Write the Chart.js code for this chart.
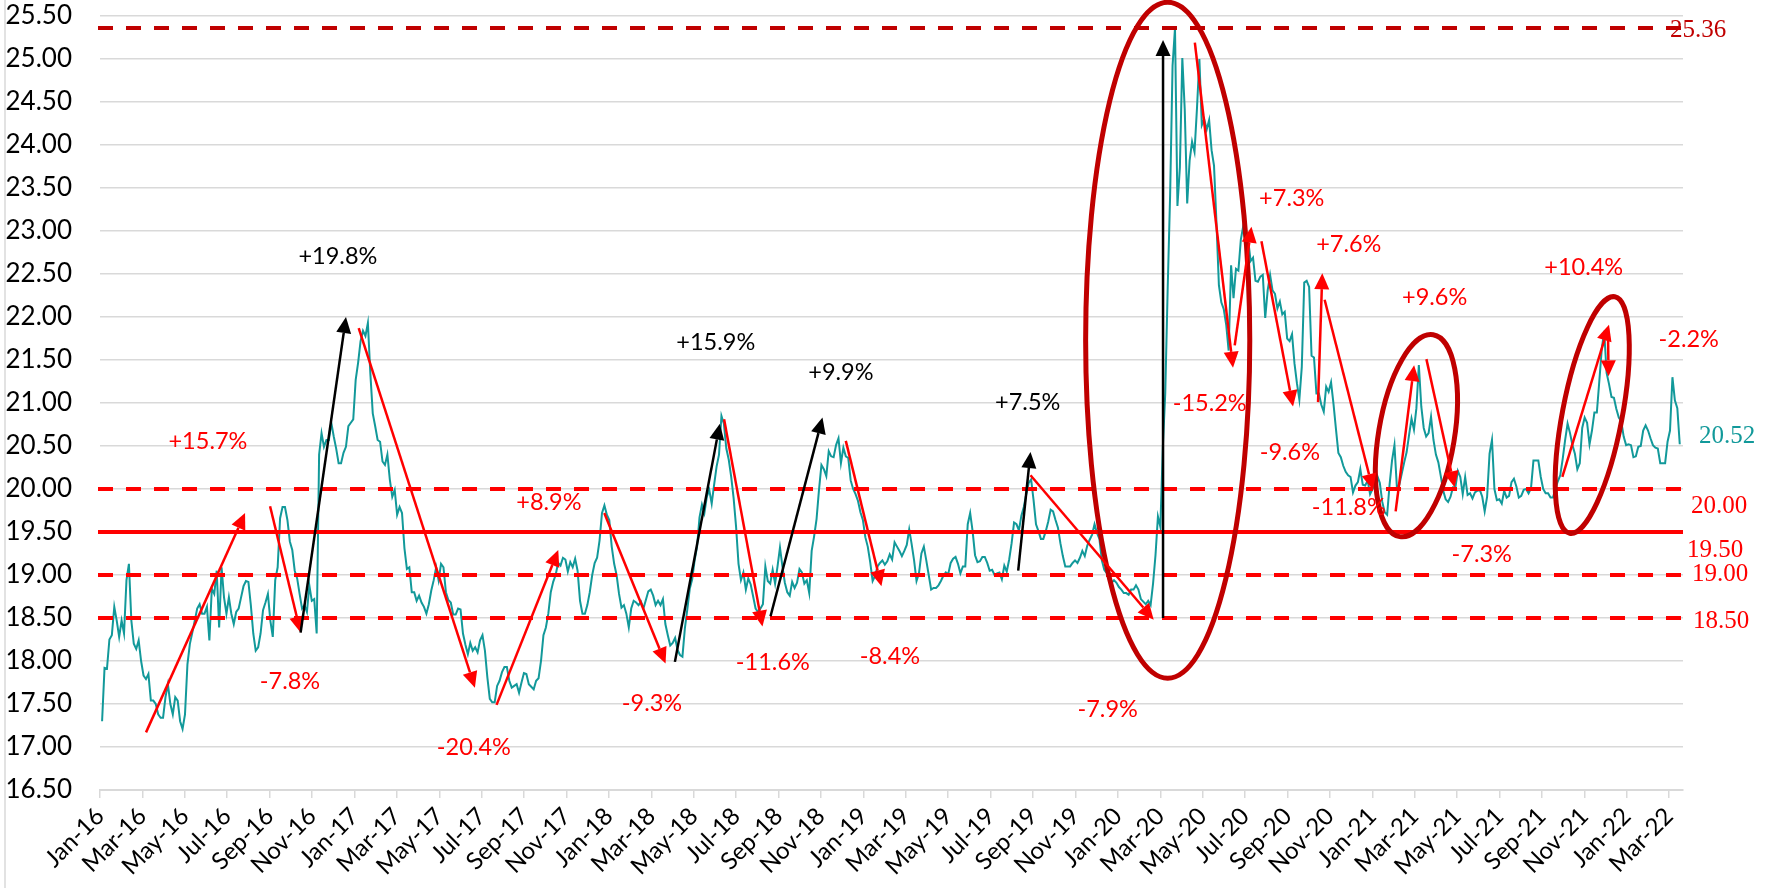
<!DOCTYPE html>
<html>
<head>
<meta charset="utf-8">
<script src="https://cdn.jsdelivr.net/npm/chart.js@4.4.1/dist/chart.umd.min.js"></script>
<style>
  html, body { margin: 0; padding: 0; background: #fff; }
  canvas { display: block; }
</style>
</head>
<body>
<canvas id="chart" width="1777" height="888"></canvas>
<script>
// twice-weekly readings, first one on 4 Jan 2016
const firstDay = 3;            // days after 1 Jan 2016
const stepDays = 3.5;
const daysPerMonth = 30.4375;  // x axis unit is months since Jan-16

const values2016 = [
  17.30, 17.92, 17.91, 18.25, 18.30, 18.63, 18.47, 18.28, 18.47, 18.32,
  18.94, 19.13, 18.47, 18.20, 18.14, 18.24, 18.00, 17.83, 17.79, 17.85,
  17.54, 17.54, 17.50, 17.38, 17.34, 17.34, 17.58, 17.73, 17.50, 17.38,
  17.58, 17.54, 17.30, 17.21, 17.38, 17.96, 18.20, 18.33, 18.47, 18.61,
  18.66, 18.55, 18.55, 18.63, 18.24, 18.84, 18.78, 19.05, 18.39, 19.09,
  18.74, 18.55, 18.74, 18.55, 18.43, 18.57, 18.61, 18.74, 18.87, 18.93,
  18.92, 18.65, 18.32, 18.12, 18.16, 18.32, 18.59, 18.68, 18.78, 18.47,
  18.28, 18.94, 19.09, 19.66, 19.79, 19.79, 19.64, 19.39, 19.29, 19.05,
  18.96, 18.78, 18.61, 18.65, 18.57, 18.88, 18.70, 18.72, 18.32, 20.40,
  20.65, 20.49, 20.57, 20.57, 20.77, 20.61, 20.47, 20.30, 20.30, 20.42,
  20.49, 20.73, 20.77, 20.81
];
const values2017 = [
  21.27, 21.47, 21.72, 21.84, 21.78, 21.93,
  21.35, 20.88, 20.73, 20.57, 20.55, 20.32, 20.28, 20.40, 20.11, 19.91,
  19.99, 19.70, 19.79, 19.72, 19.31, 19.07, 19.09, 18.80, 18.80, 18.70,
  18.76, 18.68, 18.63, 18.55, 18.66, 18.82, 18.94, 19.09, 18.94, 19.13,
  19.09, 18.80, 18.71, 18.68, 18.54, 18.54, 18.61, 18.60, 18.32, 18.19,
  18.08, 18.21, 18.12, 18.16, 18.10, 18.24, 18.30, 18.12, 17.81, 17.56,
  17.52, 17.52, 17.71, 17.77, 17.87, 17.93, 17.93, 17.77, 17.69, 17.71,
  17.73, 17.63, 17.75, 17.86, 17.85, 17.73, 17.70, 17.67, 17.77, 17.80,
  18.00, 18.30, 18.39, 18.55, 18.80, 18.92, 19.00, 19.14, 19.11, 19.20,
  19.18, 19.04, 19.15, 19.09, 19.19, 19.05, 18.70, 18.55, 18.55, 18.65,
  18.80, 19.00, 19.14, 19.20, 19.40, 19.72, 19.81, 19.70
];
const values2018 = [
  19.64, 19.33, 19.13, 19.00, 18.78,
  18.62, 18.65, 18.55, 18.39, 18.61, 18.70, 18.68,
  18.65, 18.69, 18.61, 18.71, 18.81, 18.83, 18.76, 18.65, 18.70, 18.65,
  18.72, 18.43, 18.30, 18.18, 18.21, 18.27, 18.13, 18.07, 18.05, 18.38,
  18.60, 18.84, 18.95, 19.17, 19.33, 19.67, 19.82, 19.72, 19.91, 19.99,
  19.83, 20.05, 20.26, 20.40, 20.85, 20.76, 20.47, 20.34, 20.14, 19.89,
  19.56, 19.13, 18.94, 19.03, 18.83, 18.96, 18.89, 18.75, 18.61, 18.57,
  18.61, 18.66, 19.10, 18.93, 18.90, 19.06, 18.90, 19.10, 19.32, 19.10,
  18.91, 18.80, 18.76, 18.92, 18.85, 18.91, 19.07, 19.03, 18.90, 18.94,
  18.79, 19.28, 19.45, 19.65, 19.99, 20.28, 20.23, 20.15, 20.44, 20.38,
  20.37, 20.51, 20.59, 20.30, 20.48, 20.38, 20.36, 20.10, 20.00, 19.94,
  19.86, 19.73
];
const values2019 = [
  19.64, 19.44, 19.33, 19.15, 18.93, 18.99, 19.10, 19.14,
  19.17, 19.12, 19.16, 19.24, 19.18, 19.38, 19.33, 19.28, 19.22, 19.28,
  19.35, 19.53, 19.36, 19.17, 18.93, 19.02, 19.25, 19.33, 19.17, 19.00,
  18.83, 18.85, 18.85, 18.88, 18.93, 18.99, 19.03, 19.01, 19.14, 19.19,
  19.21, 19.13, 19.02, 19.10, 19.10, 19.59, 19.72, 19.51, 19.23, 19.15,
  19.16, 19.21, 19.21, 19.14, 19.05, 19.06, 19.00, 19.02, 19.03, 18.95,
  19.11, 19.04, 19.18, 19.37, 19.61, 19.59, 19.52, 19.69, 19.79, 19.94,
  20.07, 20.11, 19.87, 19.59, 19.51, 19.42, 19.42, 19.51, 19.62, 19.76,
  19.74, 19.64, 19.55, 19.37, 19.22, 19.10, 19.10, 19.10, 19.14, 19.17,
  19.14, 19.20, 19.28, 19.22, 19.34, 19.41, 19.47, 19.59, 19.49, 19.42,
  19.17, 19.06, 19.02, 18.94, 18.91, 18.94
];
const values2020 = [
  18.91, 18.86, 18.83, 18.79,
  18.79, 18.77, 18.83, 18.83, 18.88, 18.83, 18.72, 18.69, 18.66, 18.70,
  18.65, 18.90, 19.23, 19.68, 19.56, 20.48, 21.11, 22.33, 23.42, 24.92,
  25.36, 23.29, 23.74, 25.01, 24.41, 23.32, 23.82, 24.04, 23.92, 24.42,
  25.00, 24.23, 24.30, 24.18, 24.29, 23.94, 23.76, 23.10, 22.37, 22.17,
  22.09, 21.91, 21.61, 22.60, 22.22, 22.56, 22.54, 22.90, 23.06, 22.87,
  22.90, 22.65, 22.69, 22.42, 22.41, 22.47, 22.49, 21.99, 22.31, 22.49,
  22.31, 22.27, 22.10, 22.18, 22.03, 22.06, 21.75, 21.72, 21.80, 21.46,
  21.23, 21.04, 21.42, 22.40, 22.42, 22.35, 21.55, 21.53, 21.11, 21.11,
  20.98, 20.90, 21.19, 21.13, 21.24, 20.99, 20.70, 20.42, 20.37, 20.27,
  20.20, 20.16, 20.14, 19.96, 20.04, 20.08, 20.23, 20.05, 20.04, 20.10
];
const values2021 = [
  19.94, 20.00, 20.06, 20.15, 20.07,
  19.85, 19.73, 19.70, 20.05, 20.33,
  20.51, 20.02, 20.05, 20.18, 20.31, 20.43, 20.63, 20.82, 20.69, 20.94,
  21.44, 20.96, 20.71, 20.61, 20.65, 20.84, 20.57, 20.40, 20.31, 20.15,
  19.98, 19.88, 19.85, 19.91, 20.02, 20.02, 20.21, 20.14, 19.94, 20.14,
  19.93, 19.95, 19.89, 19.96, 19.98, 19.99, 19.91, 19.74, 19.91, 20.41,
  20.57, 20.00, 19.87, 19.88, 19.83, 19.98, 19.90, 19.92, 20.08, 20.12,
  20.03, 19.90, 19.92, 19.99, 20.00, 19.95, 20.01, 20.33, 20.33, 20.33,
  20.14, 20.00, 19.95, 19.95, 19.90, 19.90, 20.00, 20.09, 20.16, 20.35,
  20.57, 20.76, 20.65, 20.51, 20.41, 20.23, 20.30, 20.71, 20.83, 20.77,
  20.52, 20.68, 20.89, 20.89, 21.25, 21.62, 21.84, 21.35, 21.22, 21.07,
  21.06, 20.93, 20.83, 20.79
];
const values2022 = [
  20.61, 20.51, 20.52, 20.51, 20.37, 20.38,
  20.49, 20.50, 20.68, 20.74, 20.68, 20.59, 20.51, 20.48, 20.47, 20.30,
  20.30, 20.30, 20.55, 20.68, 21.30, 21.03, 20.94, 20.52
];

const tickLabels = [
  'Jan-16', 'Mar-16', 'May-16', 'Jul-16', 'Sep-16', 'Nov-16',
  'Jan-17', 'Mar-17', 'May-17', 'Jul-17', 'Sep-17', 'Nov-17',
  'Jan-18', 'Mar-18', 'May-18', 'Jul-18', 'Sep-18', 'Nov-18',
  'Jan-19', 'Mar-19', 'May-19', 'Jul-19', 'Sep-19', 'Nov-19',
  'Jan-20', 'Mar-20', 'May-20', 'Jul-20', 'Sep-20', 'Nov-20',
  'Jan-21', 'Mar-21', 'May-21', 'Jul-21', 'Sep-21', 'Nov-21',
  'Jan-22', 'Mar-22'
];

// horizontal levels
const levelValues = [25.36, 20.00, 19.50, 19.00, 18.50];
const levelDashed = [true, true, false, true, true];
const levelColors = ['#C00000', '#FF0000', '#FF0000', '#FF0000', '#FF0000'];

// arrows: [month, value] -> [month, value]
const arrowFrom = [
  [2.17, 17.17], [8.02, 19.80], [9.46, 18.33], [12.20, 21.87], [18.70, 17.49],
  [23.78, 19.72], [27.11, 17.99], [29.43, 20.81], [31.62, 18.52], [35.17, 20.56],
  [43.30, 19.05], [43.88, 20.16], [50.13, 18.50], [51.63, 25.19], [53.51, 21.67],
  [54.77, 22.88], [57.44, 21.01], [57.75, 22.20], [61.10, 19.74], [62.55, 21.51],
  [68.96, 20.14], [71.11, 21.87]
];
const arrowTo = [
  [6.84, 19.72], [9.46, 18.33], [11.60, 22.00], [17.68, 17.69], [21.61, 19.29],
  [26.67, 17.97], [29.23, 20.76], [31.24, 18.40], [34.07, 20.83], [36.85, 18.87],
  [43.88, 20.43], [49.69, 18.48], [50.13, 25.22], [53.43, 21.41], [54.30, 23.05],
  [56.26, 20.96], [57.64, 22.51], [60.03, 19.99], [61.97, 21.44], [63.88, 20.02],
  [71.16, 21.91], [71.14, 21.31]
];
const arrowBlack = [false, false, true, false, false, false, true, false, true, false,
  true, false, true, false, false, false, false, false, false, false, false, false];

// percentage notes: [month, value]
const noteTexts = ['+15.7%', '-7.8%', '+19.8%', '-20.4%', '+8.9%', '-9.3%', '+15.9%',
  '-11.6%', '+9.9%', '-8.4%', '+7.5%', '-7.9%', '+7.3%', '-15.2%', '+7.6%', '-9.6%',
  '-11.8%', '+9.6%', '-7.3%', '+10.4%', '-2.2%'];
const noteAt = [
  [5.09, 20.55], [8.96, 17.76], [11.22, 22.70], [17.63, 16.99], [21.17, 19.84],
  [26.03, 17.51], [29.04, 21.71], [31.73, 17.98], [34.94, 21.36], [37.25, 18.05],
  [43.75, 21.01], [47.52, 17.44], [56.20, 23.38], [52.33, 20.99], [58.89, 22.84],
  [56.11, 20.43], [58.89, 19.79], [62.94, 22.23], [65.16, 19.24], [69.97, 22.58],
  [74.92, 21.74]
];
const noteBlack = ['+19.8%', '+15.9%', '+9.9%', '+7.5%'];

// ellipses: centre [month, value], radius [months, value], tilt (deg)
const ellipseCentre = [[50.35, 21.73], [62.08, 20.62], [70.37, 20.86]];
const ellipseRadius = [[3.87, 3.93], [1.79, 1.19], [1.41, 1.40]];
const ellipseTilt = [0, 9.4, 10.8];

// labels on the right
const sideTexts = ['25.36', '20.52', '20.00', '19.50', '19.00', '18.50'];
const sideValues = [25.36, 20.52, 20.00, 19.50, 19.00, 18.50];
const sideColors = ['#C00000', '#12999a', '#FF0000', '#FF0000', '#FF0000', '#FF0000'];
const sideDx = [-13, 16, 8, 4, 9, 10];
const sideDy = [2, -8, 17, 18, -1, 3];

const allValues = [].concat(values2016, values2017, values2018, values2019,
  values2020, values2021, values2022);
const points = allValues.map((v, i) => ({ x: (firstDay + stepDays * i) / daysPerMonth, y: v }));

function drawArrow(ctx, x1, y1, x2, y2, color) {
  const a = Math.atan2(y2 - y1, x2 - x1);
  const head = 16, half = 7.5;
  const bx = x2 - head * Math.cos(a);
  const by = y2 - head * Math.sin(a);
  ctx.strokeStyle = color;
  ctx.fillStyle = color;
  ctx.lineWidth = 2.5;
  ctx.setLineDash([]);
  ctx.beginPath();
  ctx.moveTo(x1, y1);
  ctx.lineTo(bx, by);
  ctx.stroke();
  ctx.beginPath();
  ctx.moveTo(x2, y2);
  ctx.lineTo(bx + half * Math.sin(a), by - half * Math.cos(a));
  ctx.lineTo(bx - half * Math.sin(a), by + half * Math.cos(a));
  ctx.closePath();
  ctx.fill();
}

const notesPlugin = {
  id: 'notes',
  beforeDraw(chart) {
    const ctx = chart.ctx;
    ctx.save();
    ctx.fillStyle = '#fff';
    ctx.fillRect(0, 0, chart.width, chart.height);
    ctx.strokeStyle = '#d9d9d9';
    ctx.lineWidth = 1.5;
    ctx.beginPath();
    ctx.moveTo(5, 0);
    ctx.lineTo(5, chart.height);
    ctx.stroke();
    ctx.restore();
  },
  afterDatasetsDraw(chart) {
    const { ctx, chartArea } = chart;
    const xs = chart.scales.x, ys = chart.scales.y;
    ctx.save();

    levelValues.forEach((v, i) => {
      const py = ys.getPixelForValue(v);
      ctx.strokeStyle = levelColors[i];
      ctx.lineWidth = 4;
      ctx.setLineDash(levelDashed[i] ? [15, 13] : []);
      ctx.beginPath();
      ctx.moveTo(chartArea.left - 2, py);
      ctx.lineTo(chartArea.right, py);
      ctx.stroke();
    });
    ctx.setLineDash([]);

    ellipseCentre.forEach((c, i) => {
      const cx = xs.getPixelForValue(c[0]);
      const cy = ys.getPixelForValue(c[1]);
      const rx = Math.abs(xs.getPixelForValue(c[0] + ellipseRadius[i][0]) - cx);
      const ry = Math.abs(ys.getPixelForValue(c[1] + ellipseRadius[i][1]) - cy);
      ctx.strokeStyle = '#C00000';
      ctx.lineWidth = 5;
      ctx.beginPath();
      ctx.ellipse(cx, cy, rx, ry, ellipseTilt[i] * Math.PI / 180, 0, Math.PI * 2);
      ctx.stroke();
    });

    arrowFrom.forEach((f, i) => {
      const t = arrowTo[i];
      drawArrow(ctx,
        xs.getPixelForValue(f[0]), ys.getPixelForValue(f[1]),
        xs.getPixelForValue(t[0]), ys.getPixelForValue(t[1]),
        arrowBlack[i] ? '#000' : '#FF0000');
    });

    ctx.font = '23.5px Lato';
    ctx.textAlign = 'center';
    ctx.textBaseline = 'middle';
    noteTexts.forEach((txt, i) => {
      ctx.fillStyle = noteBlack.includes(txt) ? '#000' : '#FF0000';
      ctx.fillText(txt, xs.getPixelForValue(noteAt[i][0]), ys.getPixelForValue(noteAt[i][1]));
    });

    ctx.font = '25px "Liberation Serif"';
    ctx.textAlign = 'left';
    sideTexts.forEach((txt, i) => {
      ctx.fillStyle = sideColors[i];
      ctx.fillText(txt, chartArea.right + sideDx[i], ys.getPixelForValue(sideValues[i]) + sideDy[i]);
    });
    ctx.restore();
  }
};

new Chart(document.getElementById('chart'), {
  type: 'line',
  data: {
    datasets: [{
      data: points,
      borderColor: '#12999a',
      borderWidth: 2,
      pointRadius: 0,
      tension: 0,
      fill: false
    }]
  },
  options: {
    responsive: false,
    animation: false,
    layout: { padding: { top: 16, right: 94, bottom: 0, left: 0 } },
    plugins: { legend: { display: false }, tooltip: { enabled: false } },
    scales: {
      x: {
        type: 'linear',
        min: 0,
        max: 74.65,
        afterBuildTicks: (axis) => {
          axis.ticks = tickLabels.map((_, i) => ({ value: i * 2 }));
        },
        afterFit: (scale) => { scale.height = 98; },
        ticks: {
          autoSkip: false,
          minRotation: 45,
          maxRotation: 45,
          padding: 4,
          color: '#000',
          font: { family: 'Lato', size: 24 },
          callback: (v) => tickLabels[Math.round(v / 2)]
        },
        grid: {
          drawOnChartArea: false,
          drawTicks: true,
          tickLength: 8,
          color: '#d9d9d9',
          lineWidth: 1.5
        },
        border: { display: true, color: '#d9d9d9', width: 2 }
      },
      y: {
        min: 16.5,
        max: 25.5,
        afterFit: (scale) => {
          scale.width = 100;
          scale.paddingTop = 12;
          scale.paddingBottom = 12;
        },
        ticks: {
          stepSize: 0.5,
          padding: 28,
          color: '#000',
          font: { family: 'Lato', size: 26 },
          callback: (v) => v.toFixed(2)
        },
        grid: { color: '#d9d9d9', lineWidth: 1.5, drawTicks: false },
        border: { display: false }
      }
    }
  },
  plugins: [notesPlugin]
});
</script>
</body>
</html>
